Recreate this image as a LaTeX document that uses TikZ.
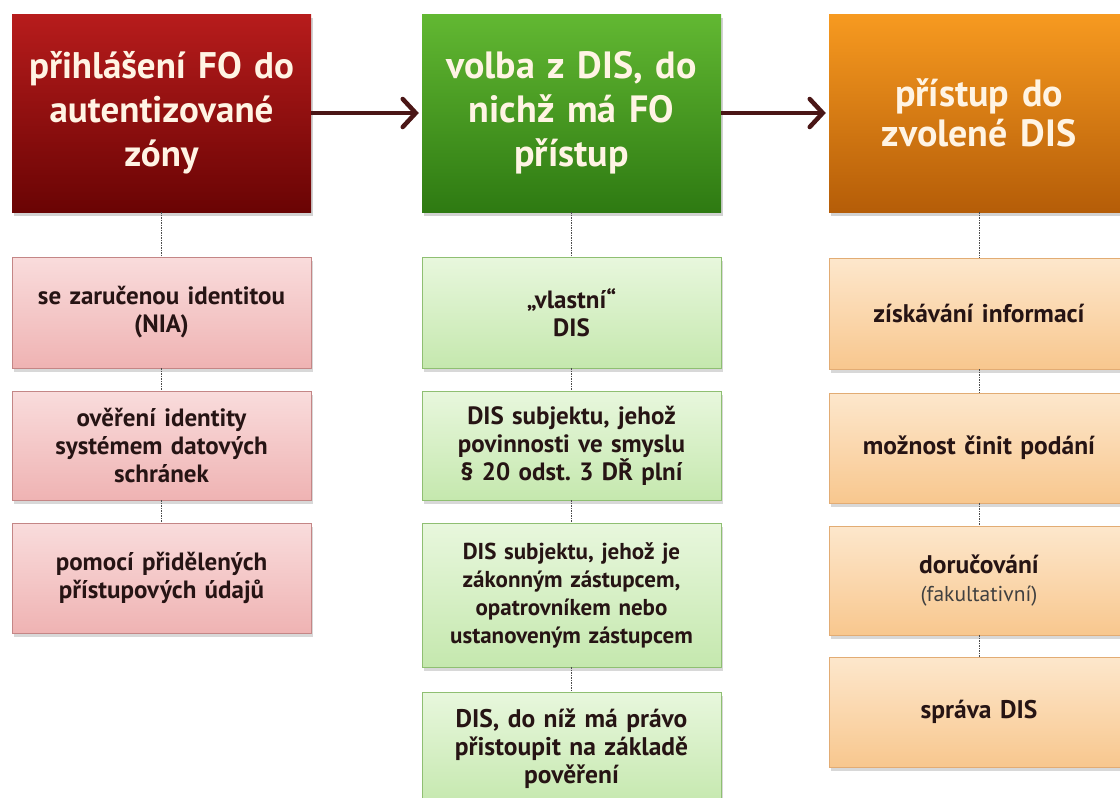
\documentclass[tikz,border=0pt]{standalone}
\usepackage{fontspec}
\setmainfont{PT Sans}
\usetikzlibrary{arrows.meta,shadows}
\frenchspacing

\definecolor{redtop}{HTML}{B71C1C}
\definecolor{redbot}{HTML}{6A0404}
\definecolor{greentop}{HTML}{62B832}
\definecolor{greenbot}{HTML}{2E7A12}
\definecolor{orangetop}{HTML}{F79A20}
\definecolor{orangebot}{HTML}{B55D08}
\definecolor{pinktop}{HTML}{F9DCDC}
\definecolor{pinkbot}{HTML}{EFB3B3}
\definecolor{pinkline}{HTML}{C48686}
\definecolor{ltgreentop}{HTML}{E8F7DD}
\definecolor{ltgreenbot}{HTML}{C5E8AE}
\definecolor{ltgreenline}{HTML}{8FBF72}
\definecolor{ltorangetop}{HTML}{FDE7CC}
\definecolor{ltorangebot}{HTML}{F8C78E}
\definecolor{ltorangeline}{HTML}{E2AC74}
\definecolor{arrowcol}{HTML}{4A1616}
\definecolor{headtext}{HTML}{FFF4E4}
\definecolor{subtext}{HTML}{261414}

\tikzset{
  headbox/.style={minimum width=299pt, minimum height=198pt, inner sep=0pt,
    text width=296pt, align=center, text=headtext,
    font=\fontsize{38}{44}\selectfont\bfseries,
    drop shadow={opacity=0.35, shadow xshift=2pt, shadow yshift=-4pt}},
  subbox/.style={draw, line width=0.8pt, minimum width=299pt, inner sep=0pt,
    text width=296pt, align=center, text=subtext,
    font=\fontsize{25}{28}\selectfont\bfseries,
    drop shadow={opacity=0.3, shadow xshift=2pt, shadow yshift=-4pt}},
  pinkbox/.style={subbox, top color=pinktop, bottom color=pinkbot, draw=pinkline},
  greenbox/.style={subbox, top color=ltgreentop, bottom color=ltgreenbot, draw=ltgreenline},
  orangebox/.style={subbox, minimum width=300pt, top color=ltorangetop,
    bottom color=ltorangebot, draw=ltorangeline, font=\fontsize{25.5}{28}\selectfont\bfseries},
  link/.style={draw=black!70, line width=0.6pt, dash pattern=on 1.5pt off 1pt},
  flow/.style={draw=arrowcol, line width=4.5pt,
    -{Straight Barb[length=13pt, width=28pt, line cap=round]}}
}

\begin{document}
\begin{tikzpicture}[x=1pt, y=-1pt]
\useasboundingbox (0,0) rectangle (1120,798);
\clip (0,0) rectangle (1120,798);
\fill[white] (0,0) rectangle (1120,798);

% column headers
\node[headbox, top color=redtop, bottom color=redbot,
  font=\fontsize{37}{44}\selectfont\bfseries] (h1) at (161.5,113)
  {přihlášení FO do\\ autentizované\\ zóny};
\node[headbox, top color=greentop, bottom color=greenbot] (h2) at (571.5,113)
  {volba z DIS, do\\ nichž má FO\\ přístup};
\node[headbox, minimum width=300pt, top color=orangetop, bottom color=orangebot,
  font=\fontsize{38}{40}\selectfont\bfseries] (h3) at (979,113)
  {přístup do\\ zvolené DIS};

% first column
\node[pinkbox, minimum height=111pt] (a1) at (161.5,312.5)
  {se zaručenou identitou\\ (NIA)};
\node[pinkbox, minimum height=109pt] (a2) at (161.5,445.5)
  {ověření identity\\ systémem datových\\ schránek};
\node[pinkbox, minimum height=110pt] (a3) at (161.5,578)
  {pomocí přidělených\\ přístupových údajů};

% second column
\node[greenbox, minimum height=111pt] (b1) at (571.5,312.5)
  {„vlastní“\\ DIS};
\node[greenbox, minimum height=109pt] (b2) at (571.5,445.5)
  {DIS subjektu, jehož\\ povinnosti ve smyslu\\ § 20 odst. 3 DŘ plní};
\node[greenbox, minimum height=144pt, font=\fontsize{23}{28}\selectfont\bfseries] (b3) at (571.5,595)
  {DIS subjektu, jehož je\\ zákonným zástupcem,\\ opatrovníkem nebo\\ ustanoveným zástupcem};
\node[greenbox, minimum height=114pt, font=\fontsize{25.5}{28}\selectfont\bfseries] (b4) at (571.5,749)
  {DIS, do níž má právo\\ přistoupit na základě\\ pověření};

% third column
\node[orangebox, minimum height=111pt] (c1) at (979,313.5)
  {získávání informací};
\node[orangebox, minimum height=110pt] (c2) at (979,448)
  {možnost činit podání};
\node[orangebox, minimum height=109pt] (c3) at (979,580.5)
  {doručování\\ {\mdseries\fontsize{21.5}{26}\selectfont\color{black!75}(fakultativní)}};
\node[orangebox, minimum height=110pt] (c4) at (979,712)
  {správa DIS};

% vertical links
\draw[link] (h1.south) -- (a1.north);
\draw[link] (a1.south) -- (a2.north);
\draw[link] (a2.south) -- (a3.north);
\draw[link] (h2.south) -- (b1.north);
\draw[link] (b1.south) -- (b2.north);
\draw[link] (b2.south) -- (b3.north);
\draw[link] (b3.south) -- (b4.north);
\draw[link] (h3.south) -- (c1.north);
\draw[link] (c1.south) -- (c2.north);
\draw[link] (c2.south) -- (c3.north);
\draw[link] (c3.south) -- (c4.north);

% flow between headers
\draw[flow] (h1.east) -- ([xshift=-3pt]h2.west);
\draw[flow] (h2.east) -- ([xshift=-3pt]h3.west);
\end{tikzpicture}
\end{document}
